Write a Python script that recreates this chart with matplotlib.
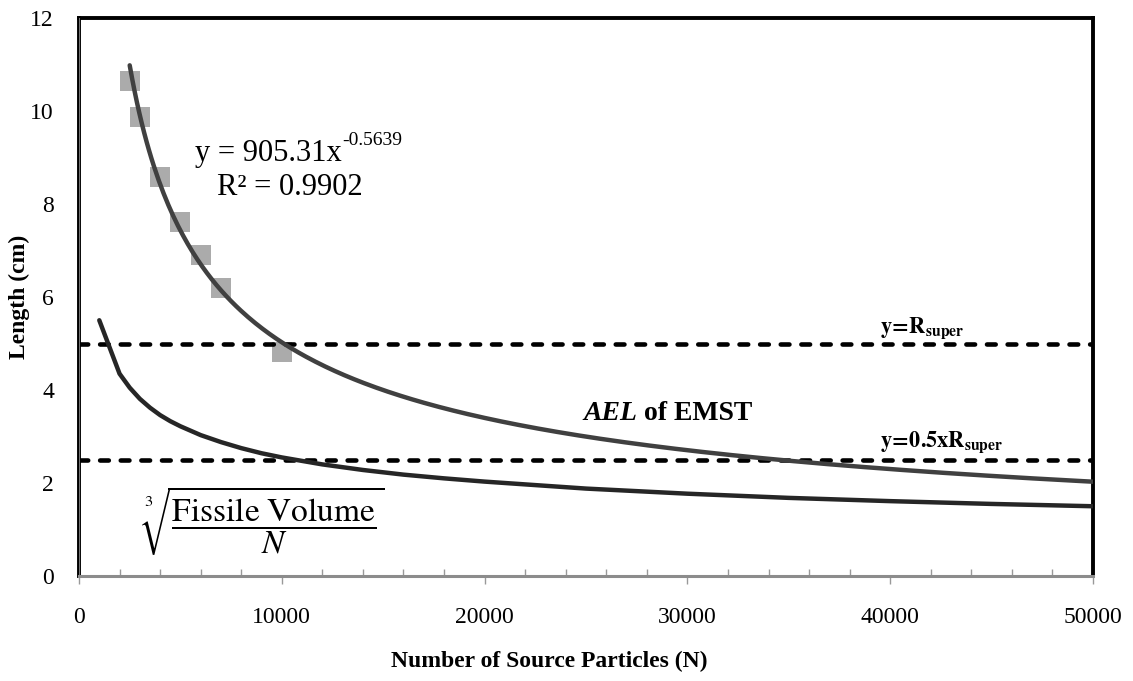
import numpy as np
import matplotlib
matplotlib.use("Agg")
import matplotlib.pyplot as plt
from matplotlib.transforms import offset_copy

plt.rcParams['font.family'] = ['Liberation Serif', 'DejaVu Serif']
plt.rcParams['mathtext.fontset'] = 'stix'

# Measured average edge length of the EMST
n_particles = [2500, 3000, 4000, 5000, 6000, 7000, 10000]
ael_emst = [10.65, 9.87, 8.59, 7.62, 6.90, 6.20, 4.82]

# Power-law fit of the EMST data
fit_a = 905.31
fit_b = -0.5639
fit_r2 = 0.9902

# Cube root of fissile volume per source particle
n_grid = [1000, 2000, 2500, 3000, 3500, 4000, 4500, 5000, 6000, 7000, 8000,
          9000, 10000, 12000, 14000, 16000, 18000, 20000, 25000, 30000,
          35000, 40000, 45000, 50000]
cube_len = [5.50, 4.35, 4.05, 3.81, 3.62, 3.46, 3.33, 3.22, 3.03, 2.88, 2.75,
            2.64, 2.55, 2.40, 2.28, 2.18, 2.10, 2.03, 1.88, 1.77,
            1.68, 1.61, 1.55, 1.50]

r_super = 5.0
half_r_super = 0.5 * r_super

x_ticks = [0, 10000, 20000, 30000, 40000, 50000]
y_ticks = [0, 2, 4, 6, 8, 10, 12]

fig = plt.figure(figsize=(11.33, 6.81), dpi=100)
ax = fig.add_axes([79 / 1133, 1 - 576 / 681, (1093 - 79) / 1133, (576 - 18) / 681])

# horizontal reference lines
for yv in (r_super, half_r_super):
    ax.plot([0, 50000], [yv, yv], color='black', lw=3.3,
            linestyle=(0, (1.9, 2.6)), dash_capstyle='round', zorder=2)

# data markers
ax.plot(n_particles, ael_emst, linestyle='none', marker='s', markersize=14.5,
        color='#ABABAB', markeredgewidth=0, zorder=1)

# fitted trend line
xf = np.linspace(n_particles[0], 50000, 400)
ax.plot(xf, fit_a * xf ** fit_b, color='#404040', lw=3.2, zorder=3,
        solid_capstyle='round')

# cube-root curve
ax.plot(n_grid, cube_len, color='#262626', lw=3.2, zorder=3,
        solid_capstyle='round', solid_joinstyle='round')

ax.set_xlim(0, 50000)
ax.set_ylim(0, 12)
ax.set_xticks(x_ticks)
ax.set_xticklabels([str(v) for v in x_ticks])
ax.set_xticks(np.arange(0, 50001, 2000), minor=True)
ax.set_yticks(y_ticks)
ax.set_yticklabels([str(v) for v in y_ticks])

ax.tick_params(axis='x', which='major', direction='out', length=6, width=1,
               color='#999999', labelsize=17, pad=16)
ax.tick_params(axis='x', which='minor', direction='in', length=5, width=1,
               color='#999999')
ax.tick_params(axis='y', which='both', length=0, labelsize=17, pad=18)

for side in ('top', 'right', 'left'):
    ax.spines[side].set_color('black')
    ax.spines[side].set_linewidth(2.8)
ax.spines['bottom'].set_color('#8c8c8c')
ax.spines['bottom'].set_linewidth(2.2)
ax.axvline(0, color='#8c8c8c', lw=1.2, zorder=4)

ax.set_xlabel('Number of Source Particles (N)', fontsize=17, fontweight='bold')
ax.xaxis.label.set_va('center')
ax.xaxis.set_label_coords(0.4635, -0.154)
ax.set_ylabel('Length (cm)', fontsize=17, fontweight='bold')
ax.yaxis.label.set_va('center')
ax.yaxis.set_label_coords(-0.059, 0.5)

renderer = fig.canvas.get_renderer()


def text_after(prev, s, dy_pts=0.0, **kw):
    """Place text s directly after the text artist prev."""
    bb = prev.get_window_extent(renderer)
    x0, y0 = ax.transData.inverted().transform((bb.x1, 0))[0], prev.get_position()[1]
    tr = offset_copy(ax.transData, fig=fig, x=0, y=dy_pts, units='points')
    return ax.text(x0, y0, s, transform=tr, **kw)


# fit annotation
eq = ax.text(5720, 8.93, 'y = %.2fx' % fit_a, fontsize=22, va='baseline', ha='left')
fig.canvas.draw()
text_after(eq, '%.4f' % fit_b, dy_pts=11, fontsize=14, va='baseline', ha='left')
ax.text(6805, 8.20, 'R² = %.4f' % fit_r2, fontsize=22, va='baseline', ha='left')

# reference line labels
ax.text(39497, 5.23, r'$\mathbf{y\!=\!R_{super}}$', fontsize=16, va='baseline')
ax.text(39497, 2.77, r'$\mathbf{y\!=\!0.5xR_{super}}$', fontsize=16, va='baseline')

# curve label: italic acronym followed by upright words
t1 = ax.text(24852, 3.50, 'AEL', fontsize=20, fontweight='bold',
             fontstyle='italic', va='center', ha='left')
fig.canvas.draw()
text_after(t1, ' of EMST', fontsize=20, fontweight='bold', va='center', ha='left')

# formula label for the lower curve
ax.text(3000, 1.19, r'$\sqrt[3]{\dfrac{\mathrm{Fissile\ Volume}}{N}}$',
        fontsize=24, va='center', ha='left')

fig.savefig('out.png', dpi=100)
